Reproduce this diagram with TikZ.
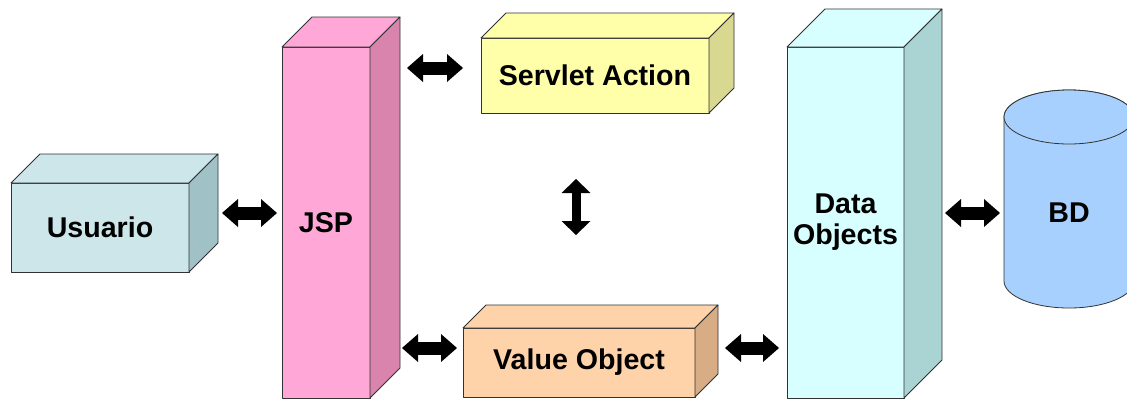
\documentclass[tikz,border=0pt]{standalone}
\usepackage{fontspec}
\setmainfont{Liberation Sans}
\usetikzlibrary{arrows.meta,calc}

\definecolor{usrF}{RGB}{204,230,234}
\definecolor{usrS}{RGB}{160,194,198}
\definecolor{jspF}{RGB}{255,168,216}
\definecolor{jspS}{RGB}{216,132,172}
\definecolor{saF}{RGB}{255,255,170}
\definecolor{saS}{RGB}{216,216,144}
\definecolor{voF}{RGB}{255,211,170}
\definecolor{voS}{RGB}{216,172,132}
\definecolor{doF}{RGB}{216,255,255}
\definecolor{doS}{RGB}{170,212,212}
\definecolor{bdF}{RGB}{168,208,255}
\definecolor{edge}{RGB}{50,50,50}

\tikzset{
  face/.style={draw=edge, line width=0.8pt, line join=round},
  frontface/.style={face, rectangle, inner sep=0pt, outer sep=0pt, align=center,
    font=\fontsize{28.6}{31}\selectfont\bfseries},
  lbl/.style={inner sep=0pt, font=\fontsize{28.6}{31}\selectfont\bfseries},
  bigtip/.tip={Triangle[length=16pt,width=28pt,line width=0pt]},
  vtip/.tip={Triangle[length=14pt,width=29pt,line width=0pt]},
  dbl/.style={line width=13pt, black, bigtip-bigtip},
  dblv/.style={line width=9pt, black, vtip-vtip}
}

% #1 name, #2 centre of front face, #3 width, #4 height, #5 depth,
% #6 front/top colour, #7 side colour, #8 text
\newcommand\cuboid[8]{%
  \node[frontface, fill=#6, minimum width=#3pt, minimum height=#4pt] (#1) at #2 {#8};
  \draw[face, fill=#6] (#1.north west) -- ++(#5,-#5)
    -- ($(#1.north east)+(#5,-#5)$) -- (#1.north east) -- cycle;
  \draw[face, fill=#7] (#1.north east) -- ++(#5,-#5)
    -- ($(#1.south east)+(#5,-#5)$) -- (#1.south east) -- cycle;
}

\begin{document}
\begin{tikzpicture}[x=1pt, y=-1pt]
\useasboundingbox[fill=white] (0,0) rectangle (1127,400);

\cuboid{usr}{(100,227.5)}{178}{89}{29}{usrF}{usrS}{Usuario}
\cuboid{jsp}{(326,222.5)}{88}{351}{30}{jspF}{jspS}{JSP}
\cuboid{sa}{(595,75.5)}{228}{75}{25}{saF}{saS}{Servlet Action}
\cuboid{vo}{(579,362.5)}{232}{69}{23}{voF}{voS}{Value Object}
\cuboid{do}{(845.5,222.5)}{117}{351}{38}{doF}{doS}{Data\\Objects}

% database cylinder
\node[inner sep=0pt, outer sep=0pt, minimum width=130pt, minimum height=164pt] (bd) at (1069,199) {};
\draw[face, fill=bdF] (bd.north west) -- (bd.south west)
  arc[start angle=180, end angle=360, x radius=65pt, y radius=27pt]
  -- (bd.north east)
  arc[start angle=0, end angle=180, x radius=65pt, y radius=27pt] -- cycle;
\draw[face, fill=bdF] (bd.north) ellipse [x radius=65pt, y radius=27pt];
\node[lbl] (bdtxt) at (1069,213) {BD};

% connectors
\draw[dbl] ($(usr.east)+(33,-14.5)$) -- ($(jsp.west)+(-5,-9.5)$);
\draw[dbl] ($(jsp.north east)+(37,21)$) -- ($(sa.west)+(-18,-7.5)$);
\draw[dbl] ($(jsp.south east)+(32,-50)$) -- ($(vo.west)+(-6,-14.5)$);
\draw[dbl] ($(vo.east)+(30,-14.5)$) -- ($(do.west)+(-8,125.5)$);
\draw[dbl] ($(do.east)+(41,-9.5)$) -- ($(bd.west)+(-4,14)$);
\draw[dblv] ($(sa.south)+(-19,66)$) -- ($(vo.north)+(-3,-93)$);
\end{tikzpicture}
\end{document}
